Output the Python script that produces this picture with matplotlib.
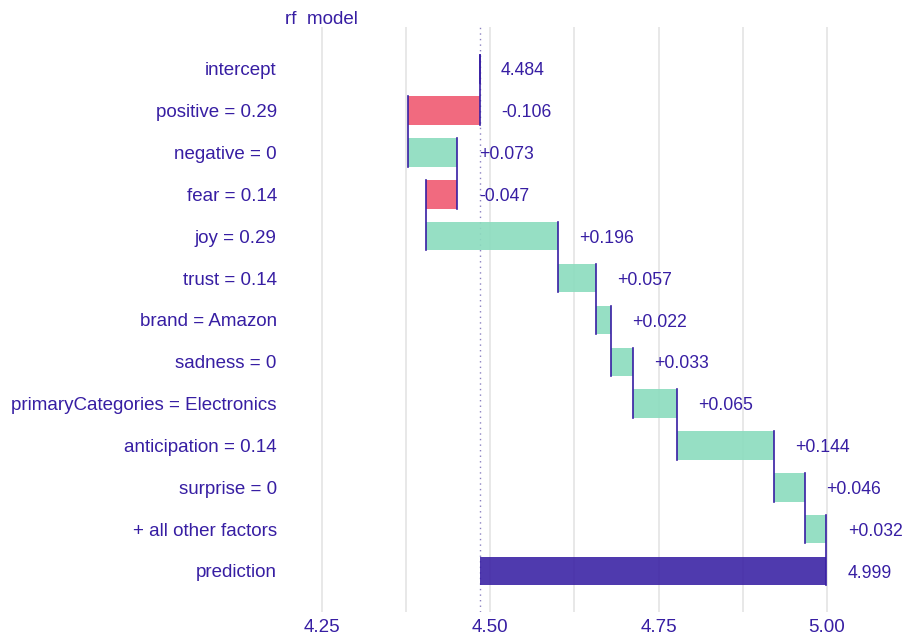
import numpy as np
import matplotlib
matplotlib.use("Agg")
from matplotlib import pyplot as plt

plt.rcParams['font.family'] = ['Liberation Sans', 'DejaVu Sans']

labels = ["intercept", "positive = 0.29", "negative = 0", "fear = 0.14", "joy = 0.29",
          "trust = 0.14", "brand = Amazon", "sadness = 0",
          "primaryCategories = Electronics", "anticipation = 0.14", "surprise = 0",
          "+ all other factors", "prediction"]
intercept = 4.484
contrib = [-0.106, 0.073, -0.047, 0.196, 0.057, 0.022, 0.033, 0.065, 0.144, 0.046, 0.032]
prediction = 4.999
ticks = [4.25, 4.50, 4.75, 5.00]

txt = "#371ea3"
green = "#8bdcbe"
red = "#f05a71"
W, H = 904, 637
vfs = 12.7  # value label size
dy = 0.05   # value labels sit a touch low

fig = plt.figure(figsize=(W / 100, H / 100), dpi=100)
ax = fig.add_axes([290 / W, 1 - 612 / H, (895 - 290) / W, (612 - 27) / H])

h = 0.68
n = len(labels)
# cumulative positions
cum = [intercept]
for c in contrib:
    cum.append(cum[-1] + c)
cum.append(prediction)

# gridlines
for g in np.arange(4.25, 5.01, 0.125):
    ax.axvline(g, color="#e4e4e4", lw=1.2, zorder=0)
ax.axvline(intercept, color="#8a80c0", lw=1, ls=(0, (1, 3)), zorder=1)

# intercept
ax.plot([intercept, intercept], [0 - h / 2, 0 + h / 2], color=txt, lw=1.2, zorder=3)
ax.text(intercept + 0.031, dy, f"{intercept:.3f}", color=txt, fontsize=vfs, va="center", ha="left")

for i, c in enumerate(contrib):
    y = i + 1
    start = cum[i]
    end = cum[i + 1]
    ax.barh(y, end - start, left=start, height=h, color=green if c > 0 else red,
            alpha=0.9, zorder=2)
    sign = "+" if c > 0 else ""
    ax.text(max(start, end) + 0.032, y + dy, f"{sign}{c:.3f}", color=txt, fontsize=vfs,
            va="center", ha="left")

# connectors
for i in range(n - 1):
    ax.plot([cum[i], cum[i]], [i - h / 2, i + 1 + h / 2], color=txt, lw=1.2, zorder=3)

# prediction
ax.barh(n - 1, prediction - intercept, left=intercept, height=h, color=txt, alpha=0.88, zorder=2)
ax.text(prediction + 0.032, n - 1 + dy, f"{prediction:.3f}", color=txt, fontsize=vfs,
        va="center", ha="left")

ax.set_xlim(4.25 - 32 / 672, 5.0 + 68 / 672)
ax.set_ylim(12.98, -1.0)
ax.set_yticks(range(n))
ax.set_yticklabels(labels, color=txt, fontsize=13.5)
ax.set_xticks(ticks)
ax.set_xticklabels([f"{t:.2f}" for t in ticks], color=txt, fontsize=13.5)
ax.tick_params(axis="x", length=0, pad=5)
ax.tick_params(axis="y", length=0, pad=9.5)
for s in ax.spines.values():
    s.set_visible(False)

fig.text(285 / W, 1 - 19 / H, "rf  model", color=txt, fontsize=13.5, va="center", ha="left")

fig.savefig("out.png", dpi=100)
